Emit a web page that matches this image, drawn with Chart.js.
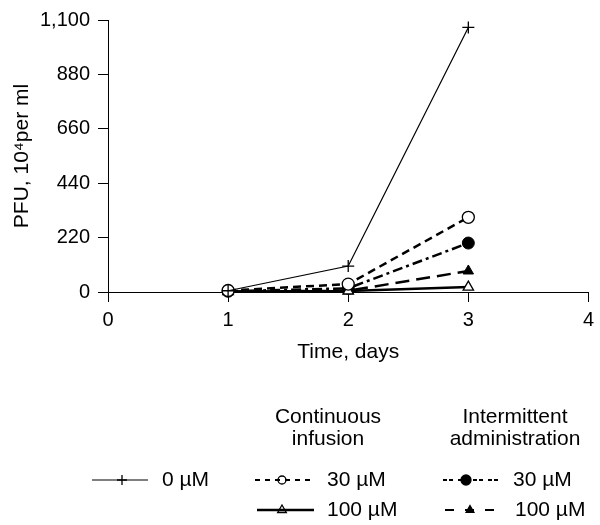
<!DOCTYPE html>
<html>
<head>
<meta charset="utf-8">
<script src="https://cdn.jsdelivr.net/npm/chart.js@4"></script>
<style>
  html, body { margin: 0; padding: 0; background: #fff; }
  #wrap { width: 600px; height: 525px; }
</style>
</head>
<body>
<div id="wrap"><canvas id="pfu-chart" width="600" height="525"></canvas></div>
<script>
// values (PFU, 10^4 per ml)
const days = [1, 2, 3];
const zeroUM = [5, 105, 1070];
const contUM30 = [6, 32, 302];
const contUM100 = [2, 4, 20];
const intUM30 = [3, 15, 198];
const intUM100 = [2, 5, 85];

const xTicks = [0, 1, 2, 3, 4];
const yTicks = [0, 220, 440, 660, 880, 1100];

const FONT = '"Liberation Sans", Arial, Helvetica, sans-serif';

function toPoints(values) {
    return days.map((d, i) => ({ x: d, y: values[i] }));
}

function makeSeries(label, values, style) {
    return Object.assign({
        label: label,
        data: toPoints(values),
        borderColor: '#000',
        pointBorderColor: '#000',
        fill: false,
        tension: 0,
        clip: false
    }, style);
}

const datasets = [
    makeSeries('0 µM', zeroUM, {
        borderWidth: 1.2, pointStyle: 'cross', pointRadius: 6, pointBorderWidth: 1.3,
        pointBackgroundColor: '#000',
        legendRadius: 5, legendWidth: 1.2
    }),
    makeSeries('Continuous 30 µM', contUM30, {
        borderWidth: 2.5, borderDash: [8, 5], pointStyle: 'circle', pointRadius: 6,
        pointBorderWidth: 1.3, pointBackgroundColor: '#fff',
        legendRadius: 4, legendWidth: 2, legendDash: [5, 5]
    }),
    makeSeries('Continuous 100 µM', contUM100, {
        borderWidth: 2.5, pointStyle: 'triangle', pointRadius: 6,
        pointBorderWidth: 1.3, pointBackgroundColor: '#fff',
        legendRadius: 5, legendWidth: 2.5
    }),
    makeSeries('Intermittent 30 µM', intUM30, {
        borderWidth: 2.5, borderDash: [10, 4, 3, 4], pointStyle: 'circle', pointRadius: 6,
        pointBorderWidth: 1, pointBackgroundColor: '#000',
        legendRadius: 5, legendWidth: 2, legendDash: [4, 2, 4, 5]
    }),
    makeSeries('Intermittent 100 µM', intUM100, {
        borderWidth: 2.5, borderDash: [14, 7], pointStyle: 'triangle', pointRadius: 6,
        pointBorderWidth: 1, pointBackgroundColor: '#000',
        legendRadius: 4.5, legendWidth: 2, legendDash: [9, 11]
    })
];

// draws a legend sample: line + marker, using the dataset's own style
function drawSample(ctx, ds, x1, x2, mx, y) {
    ctx.save();
    ctx.fillStyle = ds.pointBackgroundColor;
    ctx.strokeStyle = '#000';
    Chart.helpers.drawPoint(ctx, {
        pointStyle: ds.pointStyle,
        radius: ds.legendRadius,
        rotation: 0,
        borderWidth: ds.pointBorderWidth
    }, mx, y);
    ctx.lineWidth = ds.legendWidth;
    ctx.setLineDash(ds.legendDash || []);
    ctx.beginPath();
    ctx.moveTo(x1, y);
    ctx.lineTo(x2, y);
    ctx.stroke();
    ctx.restore();
}

const legendPlugin = {
    id: 'customLegend',
    afterDraw(chart) {
        const ctx = chart.ctx;
        ctx.save();
        ctx.fillStyle = '#000';
        ctx.font = '21px ' + FONT;
        ctx.textBaseline = 'middle';
        ctx.textAlign = 'center';
        ctx.fillText('Continuous', 328, 417);
        ctx.fillText('infusion', 328, 439);
        ctx.fillText('Intermittent', 515, 417);
        ctx.fillText('administration', 515, 439);

        const rows = [
            { ds: 0, x1: 92, x2: 148, mx: 122, tx: 162, y: 480 },
            { ds: 1, x1: 255, x2: 315, mx: 282, tx: 327, y: 480 },
            { ds: 2, x1: 257, x2: 314, mx: 282, tx: 327, y: 510 },
            { ds: 3, x1: 443, x2: 502, mx: 466, tx: 513, y: 480 },
            { ds: 4, x1: 445, x2: 500, mx: 470, tx: 515, y: 510 }
        ];
        const texts = ['0 µM', '30 µM', '100 µM', '30 µM', '100 µM'];
        rows.forEach(r => {
            const ds = chart.data.datasets[r.ds];
            drawSample(ctx, ds, r.x1, r.x2, r.mx, r.y);
            ctx.fillStyle = '#000';
            ctx.textAlign = 'left';
            ctx.fillText(texts[r.ds], r.tx, r.y);
        });
        ctx.restore();
    }
};

new Chart('pfu-chart', {
    type: 'line',
    data: { datasets: datasets },
    options: {
        responsive: false,
        animation: false,
        layout: { padding: { left: 0, right: 5, top: 20, bottom: 160 } },
        plugins: {
            legend: { display: false },
            tooltip: { enabled: false }
        },
        scales: {
            x: {
                type: 'linear',
                min: 0,
                max: 4,
                afterBuildTicks: (scale) => { scale.ticks = xTicks.map(v => ({ value: v })); },
                afterFit: (scale) => { scale.height = 73; },
                ticks: { color: '#000', font: { family: FONT, size: 20 }, padding: 6 },
                grid: { drawOnChartArea: false, drawTicks: true, tickLength: 10, color: '#000' },
                border: { color: '#000', width: 1 },
                title: {
                    display: true, text: 'Time, days', color: '#000',
                    font: { family: FONT, size: 21 }, padding: { top: 0, bottom: 0 }
                }
            },
            y: {
                min: 0,
                max: 1100,
                afterBuildTicks: (scale) => { scale.ticks = yTicks.map(v => ({ value: v })); },
                afterFit: (scale) => { scale.width = 108; },
                ticks: { color: '#000', font: { family: FONT, size: 20 }, padding: 8 },
                grid: { drawOnChartArea: false, drawTicks: true, tickLength: 10, color: '#000' },
                border: { color: '#000', width: 1 },
                title: {
                    display: true, text: 'PFU, 10⁴per ml', color: '#000',
                    font: { family: FONT, size: 21 }, padding: { top: 10, bottom: 0 }
                }
            }
        }
    },
    plugins: [legendPlugin]
});
</script>
</body>
</html>
